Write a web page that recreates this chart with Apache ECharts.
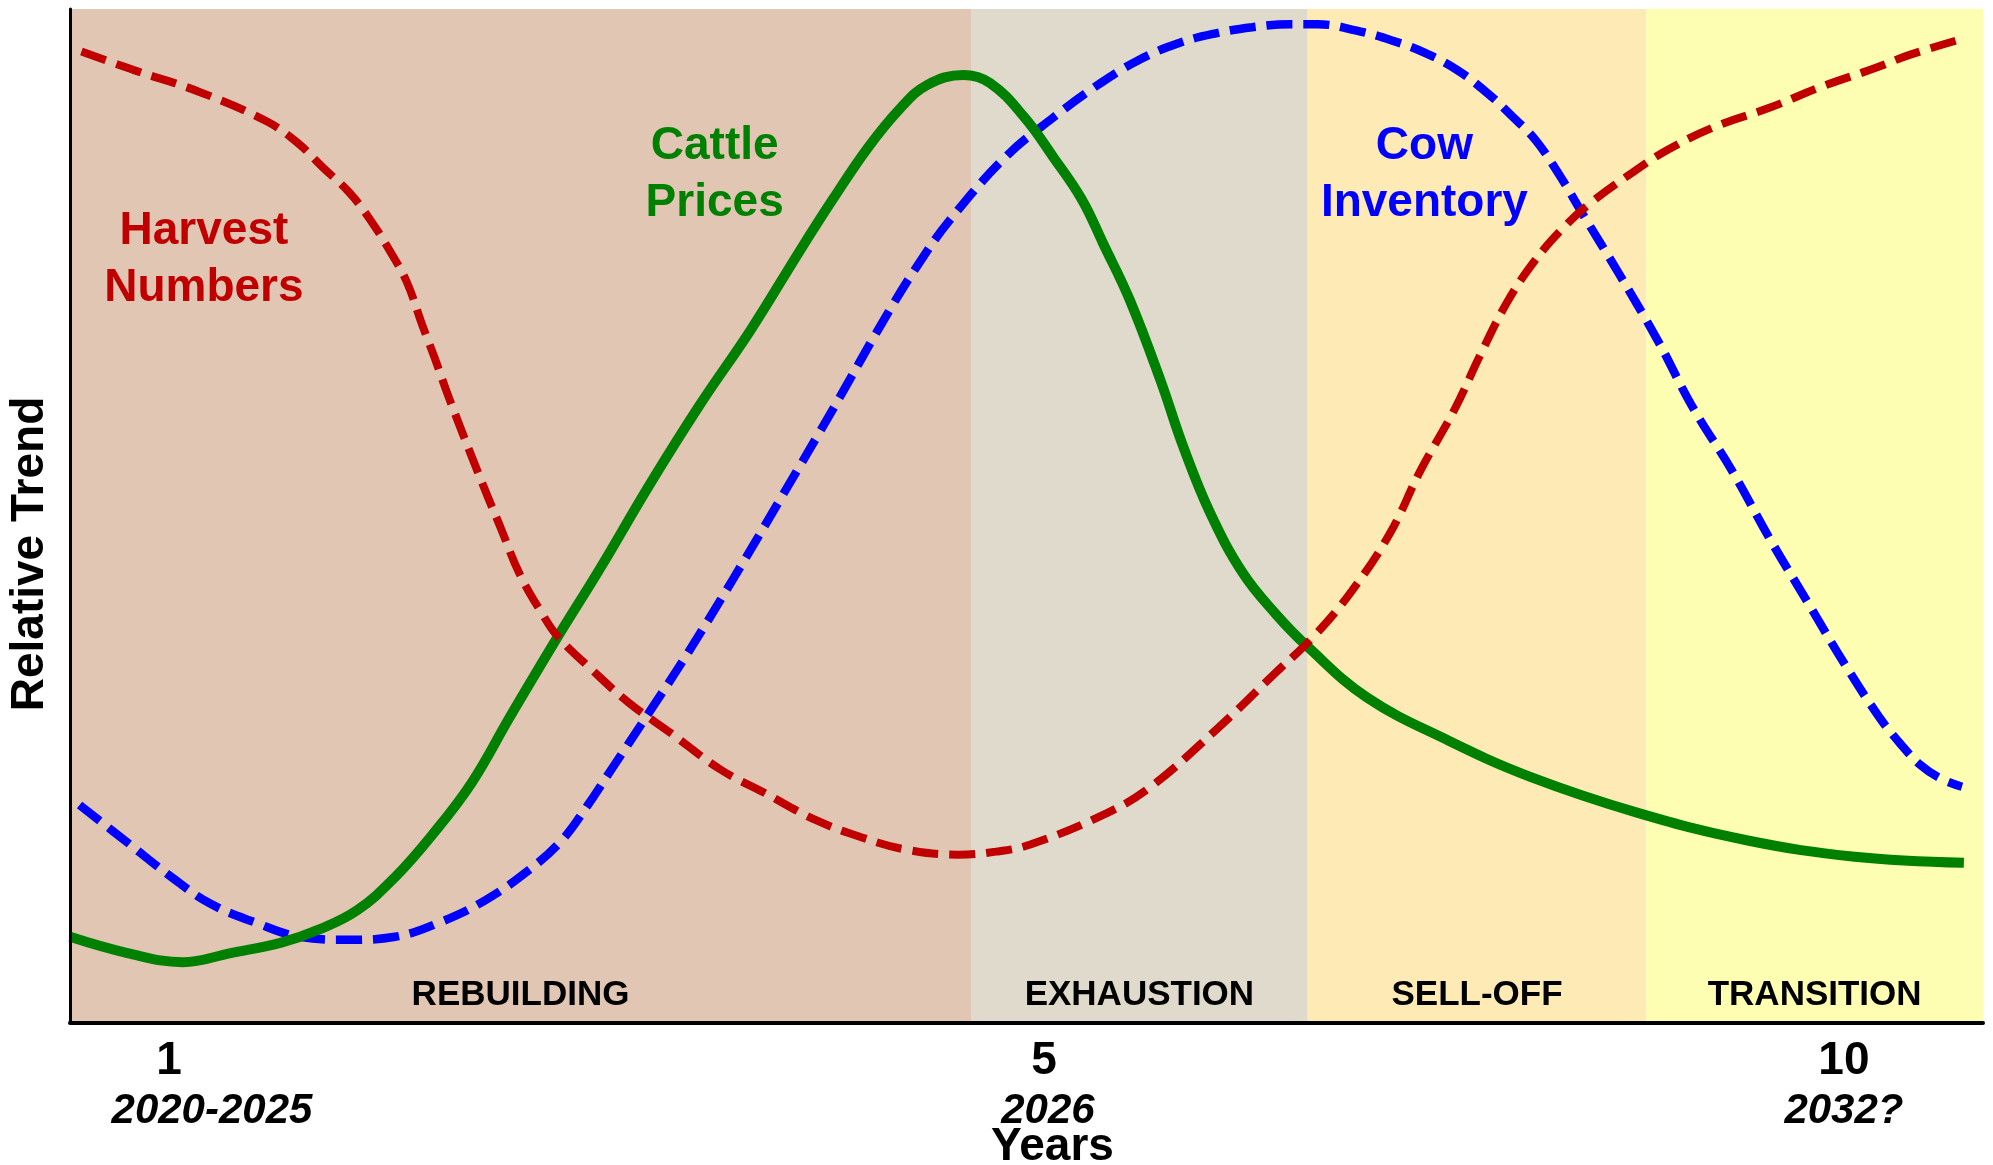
<!DOCTYPE html>
<html>
<head>
<meta charset="utf-8">
<title>Cattle cycle</title>
<script src="https://cdn.jsdelivr.net/npm/echarts@6/dist/echarts.min.js"></script>
<style>
  html, body { margin: 0; padding: 0; background: #fff; }
  #chart { width: 1993px; height: 1165px; }
</style>
</head>
<body>
<div id="chart"></div>
<script>
  // x runs 0..100 across the plot, y is a relative 0..100 trend
  const inventoryPoints = [
    [0.5, 21.5], [3.0, 17.8], [5.3, 14.4], [7.3, 11.8], [9.7, 9.9], [12.0, 8.5],
    [14.5, 8.2], [17.0, 8.5], [19.3, 9.9], [21.7, 12.1], [24.0, 15.1], [25.7, 18.0],
    [27.0, 21.3], [28.3, 25.0], [30.3, 30.7], [32.3, 36.5], [34.7, 43.9], [37.3, 52.2],
    [39.9, 60.6], [42.5, 69.2], [44.3, 74.7], [46.0, 79.2], [48.9, 85.4], [51.4, 89.3],
    [53.8, 92.6], [55.8, 94.9], [57.9, 96.6], [59.9, 97.6], [61.8, 98.2], [63.8, 98.5],
    [65.2, 98.5], [67.2, 97.9], [69.1, 96.9], [70.8, 95.7], [72.5, 94.0], [74.1, 91.7],
    [75.4, 89.4], [76.6, 87.1], [77.8, 83.8], [79.1, 79.7], [81.0, 73.8], [83.0, 67.3],
    [84.8, 60.8], [86.9, 54.4], [88.9, 47.6], [90.8, 41.6], [92.7, 35.6], [94.6, 30.1],
    [95.7, 27.5], [96.7, 25.5], [97.8, 24.1], [98.9, 23.3]
  ];
  const pricePoints = [
    [0, 8.5], [3.0, 6.9], [5.9, 6.0], [8.4, 6.9], [11.0, 7.9], [13.0, 9.2],
    [15.0, 11.1], [17.0, 14.4], [19.0, 18.7], [21.0, 23.7], [23.0, 30.2], [25.5, 38.1],
    [27.7, 44.8], [30.3, 53.1], [32.9, 60.9], [35.6, 68.4], [38.2, 76.3], [39.9, 81.3],
    [41.7, 86.3], [43.4, 90.2], [44.8, 92.5], [46.7, 93.5], [48.1, 92.7], [49.9, 89.3],
    [51.4, 85.4], [52.9, 81.2], [54.0, 76.9], [55.4, 71.3], [57.0, 63.4], [58.2, 56.8],
    [59.6, 50.3], [61.3, 44.4], [63.0, 40.4], [64.7, 37.1], [67.8, 32.1], [72.0, 27.9],
    [76.3, 24.3], [82.0, 20.7], [87.7, 18.0], [93.3, 16.4], [99.0, 15.8]
  ];
  const harvestPoints = [
    [0.6, 95.8], [3.3, 94.0], [6.8, 91.8], [10.3, 88.9], [11.9, 86.8], [13.2, 84.4],
    [14.6, 81.9], [15.7, 79.2], [16.7, 76.2], [17.6, 73.1], [18.4, 68.9], [19.1, 65.4],
    [19.8, 61.7], [21.6, 53.0], [22.5, 48.9], [23.5, 44.3], [24.7, 40.3], [25.5, 38.1],
    [27.3, 34.8], [29.2, 31.6], [31.4, 28.6], [34.0, 25.0], [36.3, 22.7], [39.0, 20.0],
    [41.4, 18.3], [43.7, 17.1], [46.4, 16.6], [48.4, 16.9], [50.2, 17.6], [54.2, 20.7],
    [56.5, 23.3], [59.9, 28.9], [63.0, 34.5], [65.0, 38.1], [67.0, 42.6], [69.0, 48.3],
    [70.6, 54.5], [72.4, 60.6], [73.7, 65.8], [75.1, 71.0], [76.5, 75.0], [78.0, 78.3],
    [79.5, 80.9], [81.7, 83.9], [83.5, 86.1], [86.0, 88.4], [88.9, 90.3], [91.5, 92.3],
    [94.4, 94.2], [96.2, 95.5], [99.0, 97.1]
  ];

  const phaseNames = ['REBUILDING', 'EXHAUSTION', 'SELL-OFF', 'TRANSITION'];
  const phaseStarts = [0, 47.1, 64.7, 82.4];
  const phaseEnds = [47.1, 64.7, 82.4, 100];
  const phaseColors = ['#e0c6b3', '#dfdacb', '#feeab4', '#fefeb2'];

  const yearTicks = [5.18, 50.92, 92.73];
  const yearLabels = ['1', '5', '10'];
  const periodTicks = [7.42, 51.12, 92.73];
  const periodLabels = ['2020-2025', '2026', '2032?'];

  const FONT = "'Liberation Sans', Arial, sans-serif";

  function nearestLabel(ticks, labels, v) {
    let best = 0;
    ticks.forEach((t, i) => {
      if (Math.abs(t - v) < Math.abs(ticks[best] - v)) best = i;
    });
    return labels[best];
  }

  function seriesTag(text, color, x, y) {
    return {
      symbol: 'circle',
      symbolSize: 1,
      itemStyle: { color: 'rgba(0,0,0,0)' },
      label: {
        show: true,
        position: 'inside',
        formatter: text,
        color: color,
        fontFamily: FONT,
        fontWeight: 'bold',
        fontSize: 46,
        lineHeight: 57,
        align: 'center'
      },
      data: [{ coord: [x, y] }]
    };
  }

  const chart = echarts.init(document.getElementById('chart'), null, { renderer: 'canvas' });

  chart.setOption({
    animation: false,
    backgroundColor: '#ffffff',
    grid: { left: 70, right: 10, top: 9, bottom: 142, outerBoundsMode: 'none', containLabel: false },
    xAxis: [{
      type: 'value',
      min: 0,
      max: 100,
      z: 10,
      axisLine: { show: true, lineStyle: { color: '#000', width: 4 } },
      axisTick: { show: false },
      splitLine: { show: false },
      axisLabel: {
        customValues: yearTicks,
        formatter: v => nearestLabel(yearTicks, yearLabels, v),
        color: '#000',
        fontFamily: FONT,
        fontWeight: 'bold',
        fontSize: 46,
        margin: 15
      },
      name: 'Years',
      nameLocation: 'middle',
      nameGap: 101,
      nameTextStyle: {
        color: '#000',
        fontFamily: FONT,
        fontWeight: 'bold',
        fontSize: 46,
        padding: [0, 0, 0, 52]
      }
    }, {
      type: 'value',
      min: 0,
      max: 100,
      position: 'bottom',
      axisLine: { show: false },
      axisTick: { show: false },
      splitLine: { show: false },
      axisLabel: {
        customValues: periodTicks,
        formatter: v => nearestLabel(periodTicks, periodLabels, v),
        color: '#000',
        fontFamily: FONT,
        fontWeight: 'bold',
        fontStyle: 'italic',
        fontSize: 42,
        margin: 67
      }
    }],
    yAxis: {
      type: 'value',
      min: 0,
      max: 100,
      z: 10,
      axisLine: { show: true, lineStyle: { color: '#000', width: 3 } },
      axisTick: { show: false },
      axisLabel: { show: false },
      splitLine: { show: false },
      name: 'Relative Trend',
      nameLocation: 'middle',
      nameGap: 17,
      nameTextStyle: {
        color: '#000',
        fontFamily: FONT,
        fontWeight: 'bold',
        fontSize: 46,
        padding: [0, 76, 0, 0]
      }
    },
    series: [{
      name: 'phases',
      type: 'line',
      z: 1,
      data: [],
      markArea: {
        silent: true,
        data: phaseNames.map((n, i) => [{
          name: n,
          xAxis: phaseStarts[i],
          itemStyle: { color: phaseColors[i], opacity: 1 }
        }, {
          xAxis: phaseEnds[i]
        }]),
        label: {
          show: true,
          position: 'insideBottom',
          distance: 10,
          color: '#000',
          fontFamily: FONT,
          fontWeight: 'bold',
          fontSize: 35
        }
      }
    }, {
      name: 'Cow Inventory',
      type: 'line',
      z: 3,
      smooth: 0.4,
      symbol: 'none',
      data: inventoryPoints,
      lineStyle: { color: '#0000ff', width: 8.5, type: [26, 11], cap: 'butt' },
      markPoint: seriesTag('Cow\nInventory', '#0000ff', 70.8, 83.6)
    }, {
      name: 'Cattle Prices',
      type: 'line',
      z: 4,
      smooth: 0.4,
      symbol: 'none',
      data: pricePoints,
      lineStyle: { color: '#008000', width: 10 },
      markPoint: seriesTag('Cattle\nPrices', '#008000', 33.7, 83.6)
    }, {
      name: 'Harvest Numbers',
      type: 'line',
      z: 5,
      smooth: 0.4,
      symbol: 'none',
      data: harvestPoints,
      lineStyle: { color: '#c00000', width: 8, type: [26, 11], cap: 'butt' },
      markPoint: seriesTag('Harvest\nNumbers', '#c00000', 7.0, 75.3)
    }]
  });
</script>
</body>
</html>
